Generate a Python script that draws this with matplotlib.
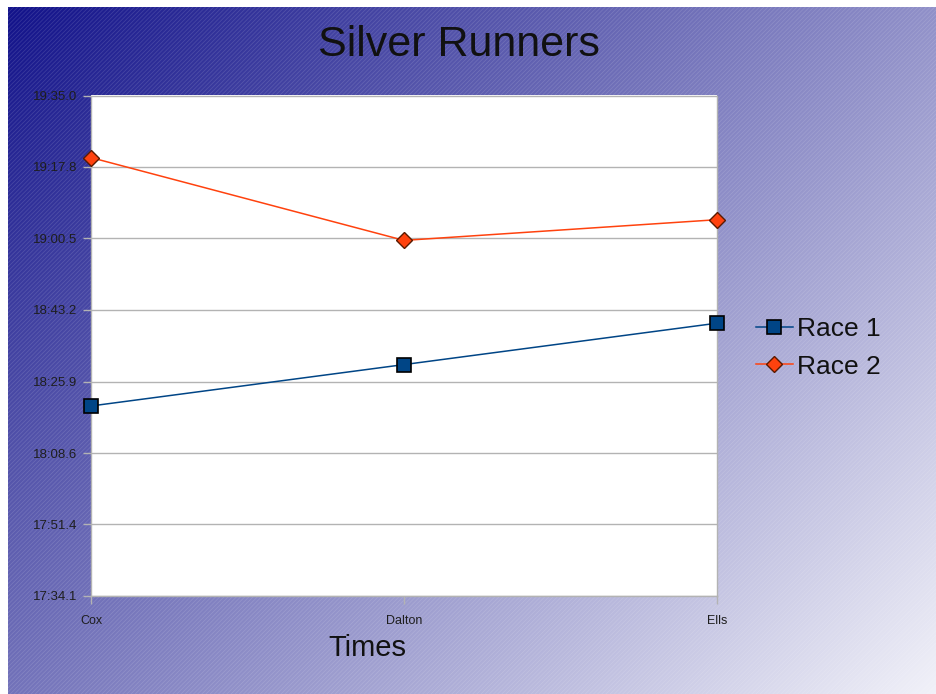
import numpy as np
import matplotlib
matplotlib.use("Agg")
import matplotlib.pyplot as plt
from matplotlib.patches import Rectangle

# data (times as mm:ss)
runners = ["Cox", "Dalton", "Ells"]
race1 = ["18:20.0", "18:30.0", "18:40.0"]
race2 = ["19:20.0", "19:00.0", "19:05.0"]
ytick_labels = ["17:34.1", "17:51.4", "18:08.6", "18:25.9",
                "18:43.2", "19:00.5", "19:17.8", "19:35.0"]


def to_sec(s):
    m, rest = s.split(":")
    return int(m) * 60 + float(rest)


r1 = [to_sec(v) for v in race1]
r2 = [to_sec(v) for v in race2]
yticks = [to_sec(v) for v in ytick_labels]

W, H = 936, 694
fig = plt.figure(figsize=(W / 100, H / 100), dpi=100)
fig.patch.set_facecolor("white")

# gradient background with diagonal hatching
bg = fig.add_axes([8 / W, 0, (W - 8) / W, (H - 7) / H])
bg.set_axis_off()
nx, ny = 400, 300
xx, yy = np.meshgrid(np.linspace(0, 1, nx), np.linspace(0, 1, ny))
t = np.clip(0.55 * xx + 0.42 * yy, 0, 1)
c0 = np.array([18, 18, 138]) / 255
c1 = np.array([248, 248, 252]) / 255
img = c0[None, None, :] * (1 - t[..., None]) + c1[None, None, :] * t[..., None]
bg.imshow(img, extent=[0, 1, 0, 1], origin="upper", aspect="auto")
plt.rcParams["hatch.linewidth"] = 0.6
bg.add_patch(Rectangle((0, 0), 1, 1, facecolor="none", edgecolor=(1, 1, 1, 0.13),
                       hatch="////////", linewidth=0))
bg.set_xlim(0, 1)
bg.set_ylim(0, 1)

font = "Liberation Sans"
tickfont = ["Liberation Sans Narrow", "Liberation Sans"]

ax = fig.add_axes([91 / W, 98 / H, 626 / W, 500.5 / H])
ax.set_facecolor("white")
x = np.arange(len(runners))
ax.plot(x, r1, color="#004586", lw=1.1, marker="s", markersize=10,
        markerfacecolor="#004586", markeredgecolor="black", markeredgewidth=1.2,
        clip_on=False, zorder=3, label="Race 1")
ax.plot(x, r2, color="#ff420e", lw=1.1, marker="D", markersize=8,
        markerfacecolor="#ff420e", markeredgecolor="#5a1a00", markeredgewidth=1.0,
        clip_on=False, zorder=3, label="Race 2")

ax.set_xlim(0, len(runners) - 1)
ax.set_ylim(yticks[0], yticks[-1])
ax.set_yticks(yticks)
ax.set_yticklabels(ytick_labels, family=tickfont, fontsize=9.5, color="#1e1e1e")
ax.set_xticks(x)
ax.set_xticklabels(runners, family=tickfont, fontsize=9, color="#1e1e1e")
ax.yaxis.grid(True, color="#b3b3b3", lw=1)
ax.set_axisbelow(True)
ax.tick_params(axis="y", length=6, width=1, color="#b3b3b3", pad=4)
ax.tick_params(axis="x", length=6, width=1, color="#b3b3b3", pad=8)
for s in ax.spines.values():
    s.set_color("#b3b3b3")
    s.set_linewidth(1)
ax.spines["top"].set_visible(False)

fig.text(459 / W, 1 - 45 / H, "Silver Runners", family=font, fontsize=31,
         color="#111111", ha="center", va="center")
fig.text(367 / W, 1 - 648 / H, "Times", family=font, fontsize=21,
         color="#111111", ha="center", va="center")

fig.legend(loc="center left", bbox_to_anchor=(756 / W, 1 - 348 / H),
           frameon=False, prop={"family": font, "size": 19},
           handlelength=1.4, handletextpad=0.15, labelspacing=0.5,
           borderpad=0, borderaxespad=0, labelcolor="#111111")

fig.savefig("out.png", dpi=100)
